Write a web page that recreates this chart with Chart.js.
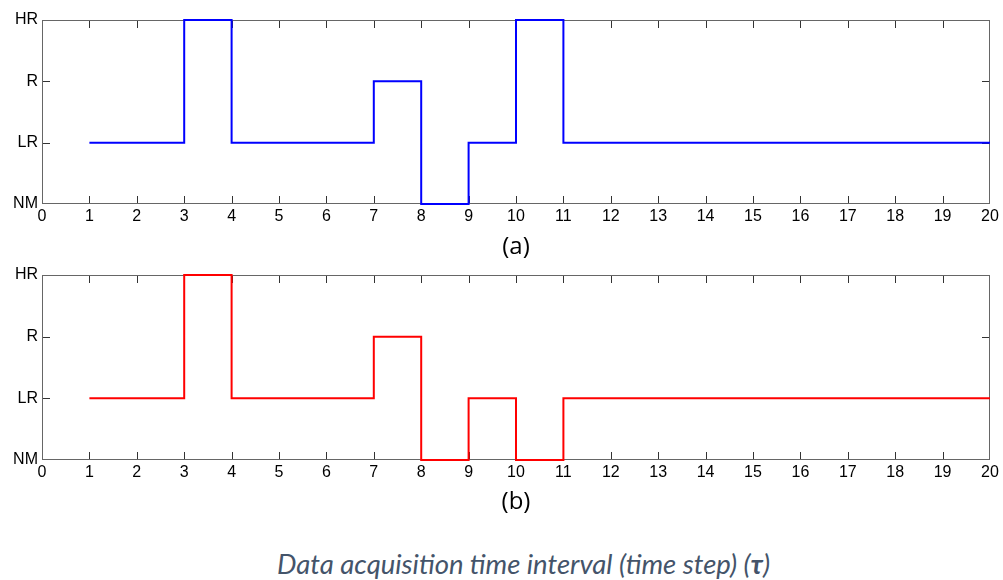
<!DOCTYPE html>
<html><head><meta charset="utf-8">
<script src="https://cdn.jsdelivr.net/npm/chart.js@4/dist/chart.umd.min.js"></script>
<style>
html,body{margin:0;padding:0;background:#fff;}
#wrap{position:relative;width:1003px;height:580px;overflow:hidden;background:#fff;}
.box{position:absolute;left:0;width:1003px;}
#caption{position:absolute;left:22px;width:1003px;top:547px;text-align:center;font-family:"Lato";font-style:italic;font-size:27.5px;color:#44546a;white-space:nowrap;}
</style></head><body>
<div id="wrap">
<div class="box" style="top:0;height:270px"><canvas id="ca"></canvas></div>
<div class="box" style="top:250px;height:280px"><canvas id="cb"></canvas></div>
<div id="caption">Data acquisition time interval (time step) (<b>τ</b>)</div>
</div>
<script>
const levelLabels = ['NM', 'LR', 'R', 'HR'];
const timeSteps = [1,2,3,4,5,6,7,8,9,10,11,12,13,14,15,16,17,18,19,20];
const seriesA = ['LR','LR','HR','LR','LR','LR','R','NM','LR','HR','LR','LR','LR','LR','LR','LR','LR','LR','LR','LR'];
const seriesB = ['LR','LR','HR','LR','LR','LR','R','NM','LR','NM','LR','LR','LR','LR','LR','LR','LR','LR','LR','LR'];
const xTickMin = 0, xTickMax = 20;

const tickFont = {family: '"Liberation Sans", Arial, sans-serif', size: 16};

const framePlugin = {
  id: 'frame',
  beforeDatasetsDraw(chart) {
    const {ctx, chartArea: a, scales: {x, y}} = chart;
    ctx.save();
    ctx.lineWidth = 1;
    ctx.strokeStyle = '#333';
    ctx.beginPath();
    x.ticks.forEach(t => {
      if (t.value === x.min || t.value === x.max) return;
      const px = Math.round(x.getPixelForValue(t.value)) + 0.5;
      ctx.moveTo(px, a.bottom); ctx.lineTo(px, a.bottom - 8);
      ctx.moveTo(px, a.top); ctx.lineTo(px, a.top + 8);
    });
    y.ticks.forEach(t => {
      if (t.value === y.min || t.value === y.max) return;
      const py = Math.round(y.getPixelForValue(t.value)) + 0.5;
      ctx.moveTo(a.left, py); ctx.lineTo(a.left + 8, py);
      ctx.moveTo(a.right, py); ctx.lineTo(a.right - 8, py);
    });
    ctx.stroke();
    ctx.strokeStyle = '#666';
    ctx.strokeRect(Math.round(a.left) + 0.5, Math.round(a.top) + 0.5, Math.round(a.width) - 1, Math.round(a.height) - 1);
    ctx.restore();
  }
};

function makeChart(id, values, color, label, pad, xHeight, titlePadBottom) {
  return new Chart(document.getElementById(id), {
    type: 'line',
    data: {
      datasets: [{
        data: timeSteps.map((t, i) => ({x: t, y: levelLabels.indexOf(values[i])})),
        borderColor: color,
        borderWidth: 2,
        pointRadius: 0,
        stepped: true,
        fill: false,
        clip: 3
      }]
    },
    options: {
      responsive: true,
      maintainAspectRatio: false,
      animation: false,
      layout: {padding: pad},
      plugins: {legend: {display: false}, tooltip: {enabled: false}},
      scales: {
        x: {
          type: 'linear', min: xTickMin, max: xTickMax,
          ticks: {stepSize: 1, color: '#000', font: tickFont, padding: 3, maxRotation: 0, autoSkip: false},
          grid: {drawOnChartArea: false, drawTicks: false},
          border: {display: false},
          title: {display: true, text: label, color: '#000', font: {family: '"Open Sans", sans-serif', size: 24}, padding: {top: 0, bottom: titlePadBottom}},
          afterFit(s) { s.height = xHeight; s.paddingLeft = 0; s.paddingRight = 0; }
        },
        y: {
          type: 'linear', min: 0, max: 3,
          ticks: {stepSize: 1, color: '#000', font: tickFont, padding: 4, callback: v => levelLabels[v]},
          grid: {drawOnChartArea: false, drawTicks: false},
          border: {display: false},
          afterFit(s) { s.width = 42; s.paddingTop = 0; s.paddingBottom = 0; }
        }
      }
    },
    plugins: [framePlugin]
  });
}

makeChart('ca', seriesA, '#0000ff', '(a)', {top: 20, right: 13, left: 0, bottom: 0}, 66, 8);
makeChart('cb', seriesB, '#ff0000', '(b)', {top: 25, right: 13, left: 0, bottom: 0}, 70, 13);
</script>
</body></html>
